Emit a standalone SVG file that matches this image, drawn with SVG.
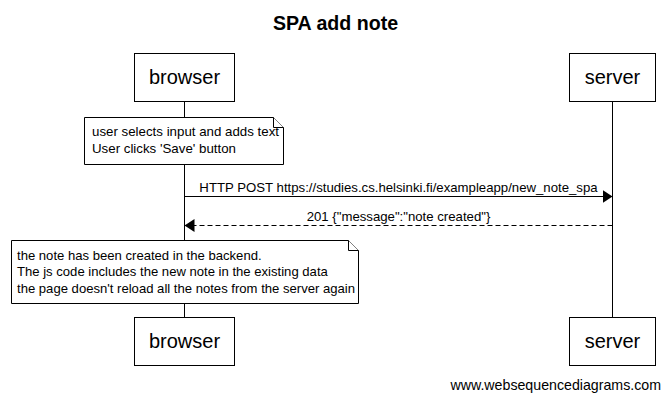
<svg xmlns="http://www.w3.org/2000/svg" width="670" height="400" viewBox="0 0 670 400">
<style>
text{font-family:"Liberation Sans",Arial,sans-serif;fill:#000}
.box{fill:#fff;stroke:#000;stroke-width:1}
.life{stroke:#000;stroke-width:1}
.pname{font-size:20px;text-anchor:middle}
.note{fill:#fff;stroke:#000;stroke-width:1}
.nt{font-size:13.3px}
.nt2{font-size:13.1px}
.lbl{font-size:13.2px;text-anchor:middle}
.msg{stroke:#000;stroke-width:1;fill:none}
.dash{stroke-dasharray:5,3}
</style>
<defs>
<marker id="ah" markerWidth="11" markerHeight="13" refX="10" refY="6.5" orient="auto" markerUnits="userSpaceOnUse">
<path d="M0,0 L10,6.5 L0,13 Z" fill="#000"/>
</marker>
</defs>
<rect width="670" height="400" fill="#fff"/>
<text x="335.5" y="30" font-size="19.6" font-weight="bold" text-anchor="middle">SPA add note</text>
<g id="lifelines">
<line class="life" x1="184.5" y1="102" x2="184.5" y2="317"/>
<line class="life" x1="612.5" y1="102" x2="612.5" y2="317"/>
</g>
<g id="browser">
<rect class="box" x="134.5" y="53.5" width="100" height="48"/>
<text class="pname" x="184.5" y="84">browser</text>
<rect class="box" x="134.5" y="317.5" width="100" height="48"/>
<text class="pname" x="184.5" y="348">browser</text>
</g>
<g id="server">
<rect class="box" x="569.5" y="53.5" width="86" height="48"/>
<text class="pname" x="612.5" y="84">server</text>
<rect class="box" x="569.5" y="317.5" width="86" height="48"/>
<text class="pname" x="612.5" y="348">server</text>
</g>
<g id="note1">
<path class="note" d="M84.5,117.5 H273.5 L283.5,127.5 V164.5 H84.5 Z"/>
<path class="note" d="M273.5,117.5 V127.5 H283.5"/>
<text class="nt" x="92" y="136">user selects input and adds text</text>
<text class="nt" x="92" y="153">User clicks 'Save' button</text>
</g>
<g id="connectors">
<line class="msg" x1="184.5" y1="196.5" x2="612.5" y2="196.5" marker-end="url(#ah)"/>
<text class="lbl" x="398.5" y="192">HTTP POST https://studies.cs.helsinki.fi/exampleapp/new_note_spa</text>
<line class="msg dash" x1="612.5" y1="225.5" x2="184.5" y2="225.5" marker-end="url(#ah)"/>
<text class="lbl" x="398.5" y="221">201 {"message":"note created"}</text>
</g>
<g id="note2">
<path class="note" d="M11.5,240.5 H348.5 L358.5,250.5 V303.5 H11.5 Z"/>
<path class="note" d="M348.5,240.5 V250.5 H358.5"/>
<text class="nt2" x="17" y="260">the note has been created in the backend.</text>
<text class="nt2" x="17" y="276">The js code includes the new note in the existing data</text>
<text class="nt2" x="17" y="293">the page doesn't reload all the notes from the server again</text>
</g>
<text x="661" y="390" font-size="14.2" text-anchor="end">www.websequencediagrams.com</text>
</svg>
